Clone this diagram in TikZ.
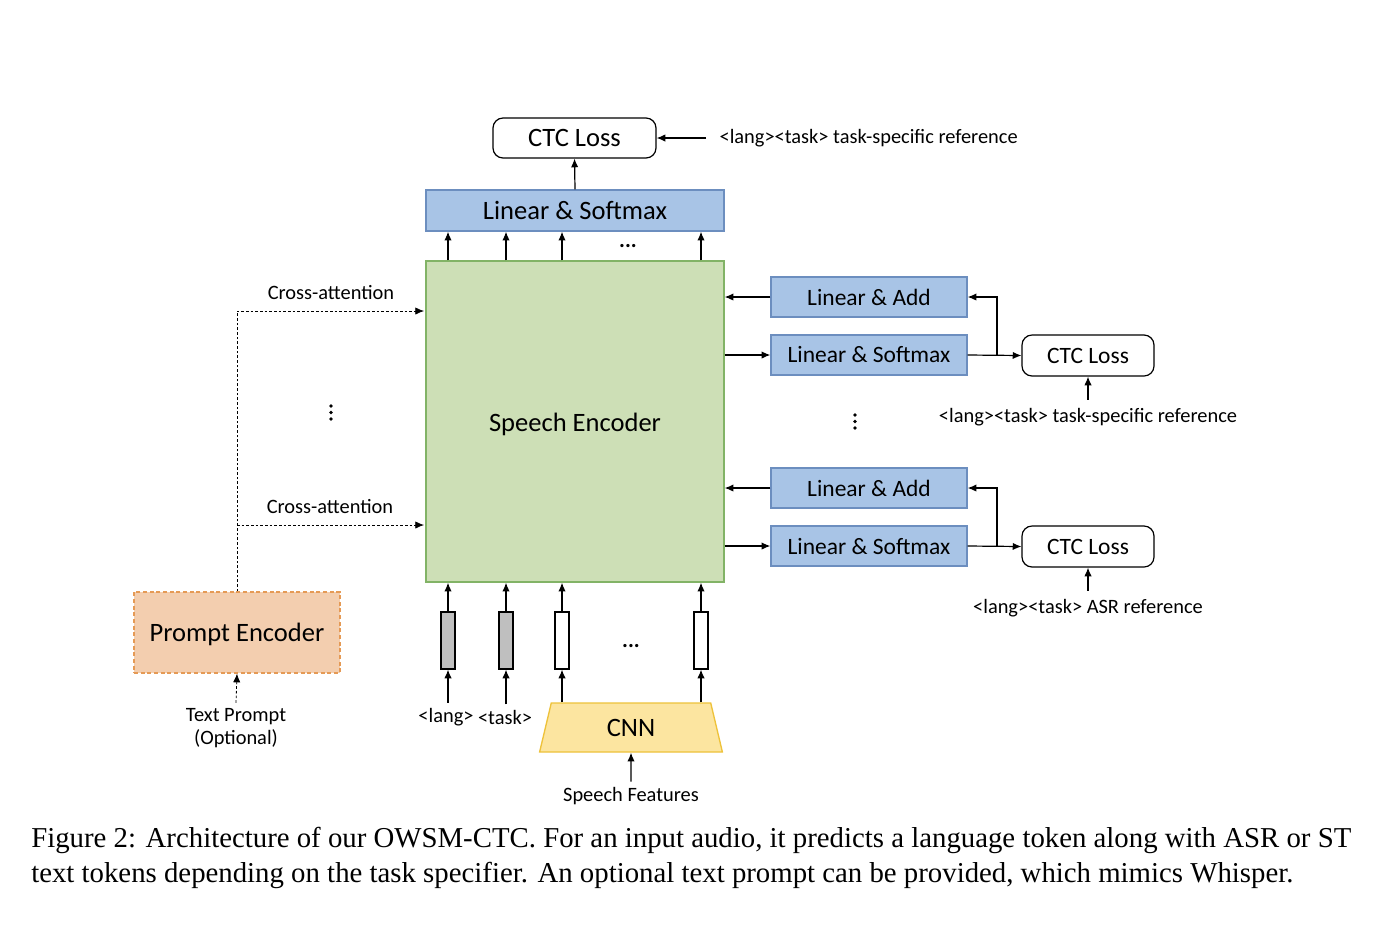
\documentclass[tikz,border=0pt]{standalone}
\usepackage{fontspec}
\setmainfont{Carlito}
\newfontfamily\capfont{Liberation Serif}
\usetikzlibrary{arrows.meta,shapes.geometric}
\definecolor{bluefill}{HTML}{A8C4E6}
\definecolor{blueline}{HTML}{6C8EBF}
\definecolor{greenfill}{HTML}{CDDFB6}
\definecolor{greenline}{HTML}{82B366}
\definecolor{peachfill}{HTML}{F3CEAF}
\definecolor{peachline}{HTML}{E59A55}
\definecolor{yellowfill}{HTML}{FCE5A0}
\definecolor{yellowline}{HTML}{EEC23A}
\definecolor{barfill}{HTML}{BFBFBF}
\tikzset{
  big/.style={font=\fontsize{19.9pt}{22pt}\selectfont},
  mid/.style={font=\fontsize{17.6pt}{20pt}\selectfont},
  small/.style={font=\fontsize{15.3pt}{17pt}\selectfont},
  bluebox/.style={draw=blueline, fill=bluefill, line width=1pt, mid, minimum width=196*0.75pt, minimum height=40*0.75pt, inner sep=0pt},
  lossbox/.style={draw=black, rounded corners=7.5pt, line width=0.9pt, fill=white, inner sep=0pt},
  tokbar/.style={draw=black, line width=0.9pt, minimum width=14*0.75pt, minimum height=57*0.75pt, inner sep=0pt},
  conn/.style={line width=0.9pt, -{Latex[length=6.5pt,width=5.5pt]}},
  dconn/.style={line width=0.6pt, dashed, dash pattern=on 2pt off 1.5pt, -{Latex[length=6.5pt,width=5.5pt]}},
  lbl/.style={small, inner sep=1pt},
}
\begin{document}
\begin{tikzpicture}[x=0.75pt,y=-0.75pt]
\useasboundingbox[fill=white] (0,0) rectangle (1388,926);

% top part
\node[lossbox, big, minimum width=163*0.75pt, minimum height=40*0.75pt] (ctcTop) at (574.5,138) {CTC Loss};
\node[draw=blueline, fill=bluefill, line width=1pt, big, minimum width=298*0.75pt, minimum height=41*0.75pt, inner sep=0pt] (lsTop) at (575,210.5) {Linear \& Softmax};
\node[anchor=west, lbl, inner xsep=10pt] (ref0) at (706,138) {<lang><task> task-specific reference};
\draw[conn] (ref0.west) -- (ctcTop.east);
\draw[conn] (lsTop.north) -- (ctcTop.south);

% encoder
\node[draw=greenline, fill=greenfill, line width=1pt, minimum width=298*0.75pt, minimum height=321*0.75pt, inner sep=0pt] (enc) at (575,421.5) {};
\node[big] (enctext) at (575,424) {Speech Encoder};

% token bars
\node[tokbar, fill=barfill] (b1) at (448,640.5) {};
\node[tokbar, fill=barfill] (b2) at (506,640.5) {};
\node[tokbar, fill=white] (b3) at (562,640.5) {};
\node[tokbar, fill=white] (b4) at (701,640.5) {};
\node[lbl, font=\fontsize{16.5pt}{18pt}\selectfont\bfseries] (hdots2) at (631,646) {...};

\foreach \b in {b1,b2,b3,b4}{
  \draw[conn] (\b.north) -- (\b.north |- enc.south);
  \draw[conn] (enc.north -| \b) -- (lsTop.south -| \b);
}
\node[lbl, font=\fontsize{16.5pt}{18pt}\selectfont\bfseries] (hdots1) at (628,246) {...};

% CNN
\node[trapezium, trapezium stretches=true, trapezium left angle=78.5, trapezium right angle=78.5, draw=yellowline, fill=yellowfill, line width=1pt, minimum width=183*0.75pt, minimum height=49*0.75pt, inner sep=0pt, big] (cnn) at (631,727.5) {CNN};
\draw[conn] (cnn.north -| b3) -- (b3.south);
\draw[conn] (cnn.north -| b4) -- (b4.south);
\node[lbl] (sf) at (631,796) {Speech Features};
\draw[conn] ([yshift=3pt]sf.north) -- (cnn.south);

\node[lbl] (lang) at (446,717) {<lang>};
\node[lbl] (task) at (505,717) {<task>};
\draw[conn] ([yshift=3pt]lang.north -| b1) -- (b1.south);
\draw[conn] ([yshift=3pt]task.north -| b2) -- (b2.south);

% prompt encoder
\node[draw=peachline, fill=peachfill, dashed, dash pattern=on 3pt off 2pt, line width=1pt, minimum width=206*0.75pt, minimum height=81*0.75pt, inner sep=0pt] (prompt) at (237,632.5) {};
\node[big] (prompttext) at (237,634.5) {Prompt Encoder};
\node[lbl, align=center] (tp) at (236,728) {Text Prompt\\(Optional)};
\draw[dconn] ([yshift=3pt]tp.north) -- (prompt.south);

\coordinate (ca1) at (424,311);
\coordinate (ca2) at (424,525);
\draw[dconn] (prompt.north) |- (ca1);
\draw[dconn] (prompt.north |- ca2) -- (ca2);
\node[lbl] (cal1) at (331,293) {Cross-attention};
\node[lbl] (cal2) at (330,507) {Cross-attention};

% vertical dots
\foreach \y in {406,412.5,419} \fill (331,\y) circle (1.4pt);
\foreach \y in {415,421.5,428} \fill (855,\y) circle (1.4pt);

% right branch 1
\node[bluebox] (la1) at (869,297) {Linear \& Add};
\node[bluebox] (ls1) at (869,355) {Linear \& Softmax};
\node[lossbox, mid, minimum width=132*0.75pt, minimum height=41*0.75pt] (ctc1) at (1088,355.5) {CTC Loss};
\draw[conn] (la1.west) -- (la1.west -| enc.east);
\draw[conn] (enc.east |- ls1.west) -- (ls1.west);
\draw[conn] (ls1.east) -- (ctc1.west);
\coordinate (j1) at (997,355);
\draw[conn] (j1) |- (la1.east);
\node[lbl] (ref1) at (1088,417) {<lang><task> task-specific reference};
\draw[conn] ([yshift=5pt]ref1.north) -- (ctc1.south);

% right branch 2
\node[bluebox] (la2) at (869,488) {Linear \& Add};
\node[bluebox] (ls2) at (869,546) {Linear \& Softmax};
\node[lossbox, mid, minimum width=132*0.75pt, minimum height=41*0.75pt] (ctc2) at (1088,546.5) {CTC Loss};
\draw[conn] (la2.west) -- (la2.west -| enc.east);
\draw[conn] (enc.east |- ls2.west) -- (ls2.west);
\draw[conn] (ls2.east) -- (ctc2.west);
\coordinate (j2) at (997,546);
\draw[conn] (j2) |- (la2.east);
\node[lbl] (ref2) at (1088,608) {<lang><task> ASR reference};
\draw[conn] ([yshift=5pt]ref2.north) -- (ctc2.south);

% caption
\node[anchor=north west, inner sep=0pt, text width=1320*0.75pt, align=justify, font=\capfont\fontsize{21.6pt}{26.25pt}\selectfont] (cap) at (31,827) {Figure 2: Architecture of our OWSM-CTC. For an input audio, it predicts a language token along with ASR or ST\linebreak text tokens depending on the task specifier. An optional text prompt can be provided, which mimics Whisper.};
\end{tikzpicture}
\end{document}
